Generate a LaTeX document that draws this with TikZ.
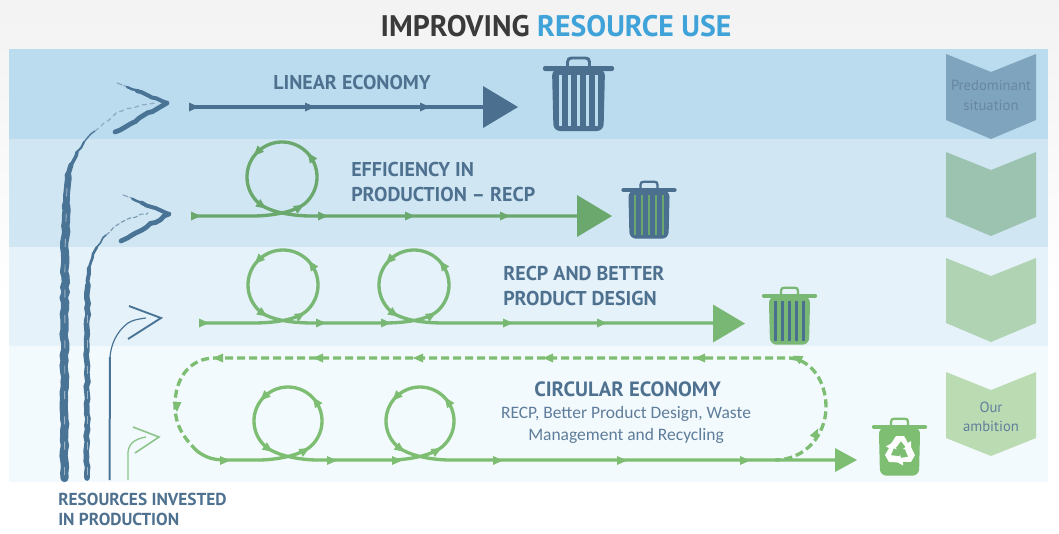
\documentclass[tikz,border=0pt]{standalone}
\usepackage{fontspec}
\setmainfont{PT Sans}
\newfontfamily\bodyfont{Carlito}
\usetikzlibrary{decorations.pathmorphing,calc}
\definecolor{bandA}{HTML}{BBDCEE}
\definecolor{bandB}{HTML}{D0E6F3}
\definecolor{bandC}{HTML}{E5F2F9}
\definecolor{bandD}{HTML}{F3FAFE}
\definecolor{slate}{HTML}{4A6F8F}
\definecolor{labelblue}{HTML}{4F7190}
\definecolor{bodyblue}{HTML}{5E7D9A}
\definecolor{greenA}{HTML}{6BA86E}
\definecolor{greenB}{HTML}{78B874}
\definecolor{greenC}{HTML}{7DBE72}
\definecolor{chalkblue}{HTML}{4A7496}
\definecolor{chalkgreen}{HTML}{8CC48A}
\definecolor{chevA}{HTML}{7FA5BE}
\definecolor{chevB}{HTML}{9BC3B0}
\definecolor{chevC}{HTML}{B0D4B3}
\definecolor{chevD}{HTML}{BBDCB3}
\definecolor{titledark}{HTML}{3A3A3A}
\definecolor{titleblue}{HTML}{3FA2D9}
\newcommand{\flowtip}[4]{\fill[#1,shift={(#2,#3)},rotate=#4] (-5,-4.5)--(5,0)--(-5,4.5)--cycle;}
\newcommand{\bighead}[5]{\fill[#1] (#2,#3-#5)--(#4,#3)--(#2,#3+#5)--cycle;}
% colour, cx, cy, r, base y, x start, x end
\newcommand{\rloop}[7]{%
  \draw[#1,flowline] (#6,#5) -- (#2-30,#5) .. controls (#2-12,#5) and (#2+11,#3+#4*1.02) .. ({#2+#4*cos(50)},{#3+#4*sin(50)})
    -- plot[domain=50:-230,samples=70] ({#2+#4*cos(\x)},{#3+#4*sin(\x)})
    .. controls (#2-11,#3+#4*1.02) and (#2+12,#5) .. (#2+30,#5) -- (#7,#5);
  \foreach \p in {60,-35,-135,125}{\fill[#1,shift={({#2+#4*cos(\p)},{#3+#4*sin(\p)})},rotate={90-\p}] (-5,-4.5)--(5,0)--(-5,4.5)--cycle;}
}
% centre x, top y, scale, body colour, stripe colour
\newcommand{\trashcan}[5]{%
  \begin{scope}[shift={(#1,#2)},scale=#3]
    \draw[#4,line width=#3*2.2pt] (-11,10) -- (-11,5) .. controls (-11,2) and (-9,1) .. (-7,1) -- (7,1) .. controls (9,1) and (11,2) .. (11,5) -- (11,10);
    \fill[#4,rounded corners=1.5] (-35.5,9) rectangle (35.5,14);
    \fill[#4,rounded corners=5] (-26.5,12) -- (26.5,12) -- (25,74) -- (-25,74) -- cycle;
    \foreach \s in {-18,-9,0,9,18}{\fill[#5] (\s-1.4,18) rectangle (\s+1.4,69);}
  \end{scope}}
\newcommand{\chevronshape}[5]{\fill[#1] (946,#2) -- (991,#3) -- (1036,#2) -- (1036,#4) -- (991,#5) -- (946,#4) -- cycle;}
% tip x, tip y, top end x, top end y, bottom end x, bottom end y
\newcommand{\chalkarrow}[6]{%
  \draw[chalkblue!65!white,chalkline,line width=.9pt,dash pattern=on 4pt off 1.5pt] (#3,#4) -- (#1,#2);
  \draw[chalkblue,chalkline,line width=3pt] ($(#3,#4)!0.4!(#1,#2)$) -- (#1,#2);
  \draw[chalkblue,chalkline,line width=1.8pt] ($(#3,#4)!0.2!(#1,#2)$) -- ($(#3,#4)!0.5!(#1,#2)$);
  \draw[chalkblue,chalkline,line width=3.6pt] (#1,#2) -- (#5,#6);
}
\tikzset{
  flowline/.style={line width=2.5pt},
  heading/.style={font=\bfseries\fontsize{15}{18.5}\selectfont,text=labelblue,align=left,inner sep=0pt},
  chalkline/.style={decorate,decoration={random steps,segment length=4pt,amplitude=0.7pt},line cap=round},
  chevlabel/.style={font=\fontsize{11}{14.5}\selectfont,align=center,inner sep=0pt},
  streak/.style={chalkblue!55!white,line width=.7pt,dash pattern=on 6pt off 13pt},
}
\begin{document}
\begin{tikzpicture}[x=0.75pt,y=-0.75pt]
\pgfmathsetseed{7}
\useasboundingbox (0,0) rectangle (1059,533);
\fill[white] (0,0) rectangle (1059,533);
\shade[top color=black!5,bottom color=white] (0,0) rectangle (1059,300);
\fill[bandA] (9,49) rectangle (1048,139);
\fill[bandB] (9,139) rectangle (1048,247);
\fill[bandC] (9,247) rectangle (1048,346);
\fill[bandD] (9,346) rectangle (1048,482);

\node[font=\bfseries\fontsize{22.3}{25}\selectfont,inner sep=0pt] (title) at (556,26) {\textcolor{titledark}{IMPROVING} \textcolor{titleblue}{RESOURCE USE}};

% chevrons
\chevronshape{chevA}{54}{72}{120}{139}
\chevronshape{chevB}{152}{170}{217}{236}
\chevronshape{chevC}{258}{276}{323}{342}
\chevronshape{chevD}{372}{390}{438}{456}
\node[chevlabel,text=labelblue!85!white] (predominant) at (991,95.5) {Predominant\\situation};
\node[chevlabel,text=labelblue!90!white] (ambition) at (991,417) {Our\\ambition};

% chalk arrows
\draw[chalkblue,chalkline,line width=6.2pt] (64.5,478) -- (64.5,330) -- (65,253) -- (66,205);
\draw[chalkblue,chalkline,line width=5pt] (66,205) -- (68,175);
\draw[chalkblue,chalkline,line width=3.8pt] (68,175) -- (71,165);
\draw[chalkblue,chalkline,line width=2.6pt] (71,165) -- (77,152);
\draw[chalkblue,chalkline,line width=1.6pt] (77,152) -- (84,142);
\draw[chalkblue,chalkline,line width=1pt] (84,142) -- (95,131);
\draw[streak] (64.5,475) -- (65,253) -- (67,185);
\draw[chalkblue!60!white,chalkline,line width=1pt,dash pattern=on 3pt off 3pt] (95,131) -- (100,127) -- (117,112) -- (140,105) -- (155,103);
\chalkarrow{167}{103}{117}{83}{115}{132}

\draw[chalkblue,chalkline,line width=4.2pt] (87,478) -- (87,330) -- (88,285);
\draw[chalkblue,chalkline,line width=3pt] (88,285) -- (89,268);
\draw[chalkblue,chalkline,line width=2pt] (89,268) -- (93,254) -- (97,247);
\draw[chalkblue,chalkline,line width=1.2pt] (97,247) -- (106,235);
\draw[streak] (87,475) -- (87,300);
\draw[chalkblue!70!white,chalkline,line width=.9pt,dash pattern=on 3pt off 2pt] (106,235) -- (113,228) -- (130,218) -- (148,213);
\chalkarrow{169}{214}{123}{195}{121}{241}

\draw[chalkblue,line width=1.5pt] (109.5,480) -- (110,357);
\draw[chalkblue,line width=.9pt] (110,357) .. controls (111,345) and (116,332) .. (128,323) .. controls (133,320) and (138,319) .. (146,318);
\draw[chalkblue,line width=1.4pt] (129,306) -- (161,318) -- (128,339);

\draw[chalkgreen,line width=1pt] (128,480) -- (128,452) .. controls (129,444) and (134,439) .. (146,437);
\draw[chalkgreen,line width=1.2pt] (133,427) -- (159,437) -- (135,453);

% linear economy
\draw[slate,flowline] (190,107) -- (490,107);
\flowtip{slate}{194}{107}{0}
\flowtip{slate}{310}{107}{0}
\flowtip{slate}{425}{107}{0}
\bighead{slate}{483}{107}{518}{21}
\node[heading,anchor=west] (linear) at (273,82) {LINEAR ECONOMY};
\trashcan{578.5}{57}{1}{slate}{bandA}

% efficiency
\rloop{greenA}{282}{177}{35}{216}{192}{585}
\flowtip{greenA}{196}{216}{0}
\flowtip{greenA}{323}{216}{0}
\flowtip{greenA}{410}{216}{0}
\flowtip{greenA}{505}{216}{0}
\bighead{greenA}{577}{216}{612}{21}
\node[heading,anchor=north west] (efficiency) at (351,162) {EFFICIENCY IN\\PRODUCTION -- RECP};
\trashcan{649}{181}{.78}{slate}{greenA}

% better design
\rloop{greenB}{283}{285}{35}{323}{200}{345}
\rloop{greenB}{414}{285}{35}{323}{345}{720}
\foreach \tx in {204,321,386,508,602}{\flowtip{greenB}{\tx}{323}{0}}
\bighead{greenB}{713}{323.5}{745}{19}
\node[heading,anchor=north west] (design) at (503,266) {RECP AND BETTER\\PRODUCT DESIGN};
\trashcan{789.5}{287}{.78}{greenB}{slate}

% circular economy
\rloop{greenC}{288}{421}{34}{460}{225}{345}
\rloop{greenC}{420}{421}{34}{460}{345}{840}
\draw[greenC,flowline] (197,451) .. controls (205,457) and (212,460) .. (226,460);
\draw[greenC,flowline,dash pattern=on 6pt off 3pt]
  (197,451) .. controls (183,437) and (175,425) .. (175,405) .. controls (175,378) and (190,358) .. (215,358)
  -- (790,358) .. controls (812,360) and (826,382) .. (826,407) .. controls (826,435) and (805,460) .. (775,460);
\foreach \tx in {218,318,418,548,700}{\flowtip{greenC}{\tx}{358}{180}}
\flowtip{greenC}{797}{358}{155}
\flowtip{greenC}{177}{407}{-90}
\flowtip{greenC}{816}{433}{65}
\foreach \tx in {225,332,397,498,622,745}{\flowtip{greenC}{\tx}{460.5}{0}}
\bighead{greenC}{835}{460}{857}{12}
\node[heading,anchor=center,font=\bfseries\fontsize{15.5}{18}\selectfont] (circular) at (627.5,389) {CIRCULAR ECONOMY};
\node[font=\bodyfont\fontsize{13.1}{17}\selectfont,text=bodyblue,align=center,inner sep=0pt] (circulartext) at (626,425) {RECP, Better Product Design, Waste\\Management and Recycling};
\trashcan{899.5}{418}{.78}{greenC}{greenC}
\begin{scope}[shift={(900,451)}]
\foreach \r in {0,120,240}{
  \fill[white,rotate=\r] (-4,-15) -- (4,-15) -- (8,-8) -- (11,-10) -- (11,-2) -- (3,-2) -- (5.5,-4) -- (1,-10) -- (-4,-3.5) -- (-9.5,-6.5) -- cycle;
}
\end{scope}

\node[heading,anchor=north west,font=\bfseries\fontsize{13}{15}\selectfont] (resources) at (58,493) {RESOURCES INVESTED\\IN PRODUCTION};
\end{tikzpicture}
\end{document}
